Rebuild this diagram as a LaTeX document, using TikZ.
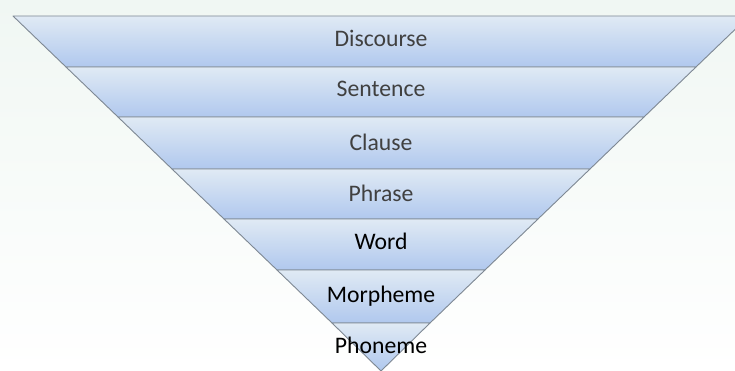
\documentclass[tikz,border=0pt]{standalone}
\usepackage{fontspec}
\setmainfont{Carlito}
\definecolor{bgmint}{HTML}{F0F7F3}
\definecolor{bandtop}{HTML}{E0EAF4}
\definecolor{bandbot}{HTML}{B0C8EE}
\definecolor{edgec}{HTML}{7E8893}
\definecolor{graytext}{HTML}{404040}
\tikzset{
  band/.style={draw=edgec, line width=0.9pt, top color=bandtop, bottom color=bandbot, line join=round},
  lbl/.style={font=\fontsize{23.7}{28}\selectfont, inner sep=0pt, anchor=base},
  lblgray/.style={lbl, text=graytext},
  lblblack/.style={lbl, text=black}
}
\begin{document}
\begin{tikzpicture}[x=1pt,y=-1pt]
\useasboundingbox (0,0) rectangle (735,371);
\fill[top color=bgmint, bottom color=white] (0,0) rectangle (735,371);
\clip (0,0) rectangle (735,371);
% bands (top to bottom)
\path[band] (13,16) -- (749,16) -- (696,67) -- (66,67) -- cycle;
\path[band] (66,67) -- (696,67) -- (644,117) -- (118,117) -- cycle;
\path[band] (118,117) -- (644,117) -- (590,169) -- (172,169) -- cycle;
\path[band] (172,169) -- (590,169) -- (538,219) -- (224,219) -- cycle;
\path[band] (224,219) -- (538,219) -- (485,270) -- (277,270) -- cycle;
\path[band] (277,270) -- (485,270) -- (430,323) -- (332,323) -- cycle;
\path[band] (332,323) -- (430,323) -- (381,371) -- cycle;
% labels
\node[lblgray]  (discourse) at (381,47)  {Discourse};
\node[lblgray]  (sentence)  at (381,97)  {Sentence};
\node[lblgray]  (clause)    at (381,151) {Clause};
\node[lblgray]  (phrase)    at (381,201) {Phrase};
\node[lblblack] (word)      at (381,249) {Word};
\node[lblblack] (morpheme)  at (381,302) {Morpheme};
\node[lblblack] (phoneme)   at (381,353) {Phoneme};
\end{tikzpicture}
\end{document}
